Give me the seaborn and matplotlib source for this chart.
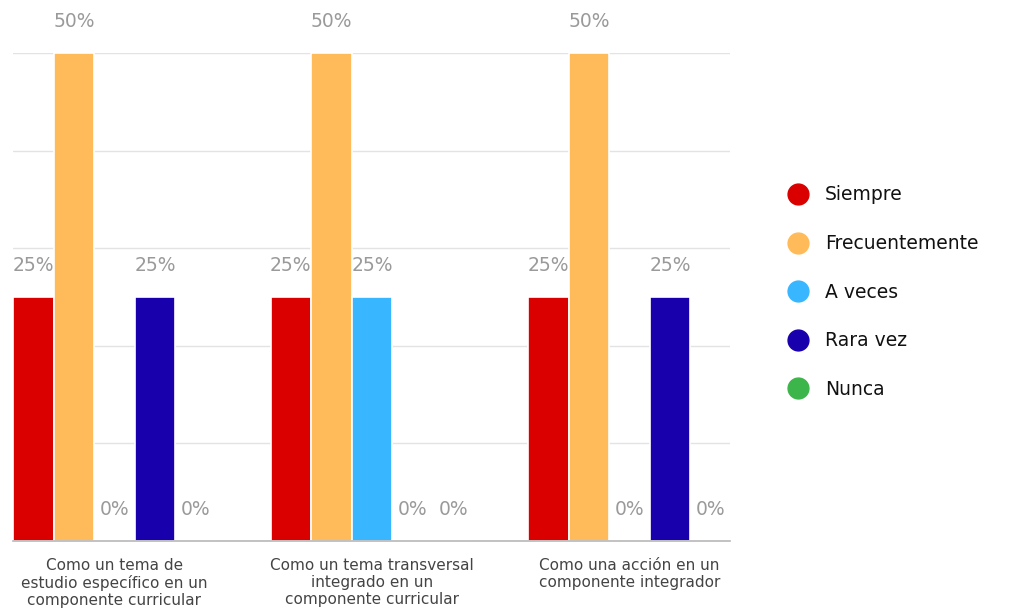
import matplotlib
matplotlib.use("Agg")
import matplotlib.pyplot as plt
from matplotlib.lines import Line2D
import seaborn as sns
import pandas as pd

categories = [
    "Como un tema de\nestudio específico en un\ncomponente curricular",
    "Como un tema transversal\nintegrado en un\ncomponente curricular",
    "Como una acción en un\ncomponente integrador",
]
series = ["Siempre", "Frecuentemente", "A veces", "Rara vez", "Nunca"]
siempre = [25, 25, 25]
frecuentemente = [50, 50, 50]
a_veces = [0, 25, 0]
rara_vez = [25, 0, 25]
nunca = [0, 0, 0]
colors = ["#da0000", "#ffbb5a", "#38b6ff", "#1800ad", "#3cb54a"]

values = [siempre, frecuentemente, a_veces, rara_vez, nunca]
rows = []
for s, vals in zip(series, values):
    for c, v in zip(categories, vals):
        rows.append({"cat": c, "serie": s, "val": v})
df = pd.DataFrame(rows)

sns.set_theme(style="white")
plt.rcParams["font.family"] = ["DejaVu Sans"]

fig = plt.figure(figsize=(10.09, 6.10), dpi=100)
ax = fig.add_axes([0.0129, 0.113, 0.7106, 0.800])

sns.barplot(data=df, x="cat", y="val", hue="serie", order=categories,
            hue_order=series, palette=colors, width=0.788, ax=ax,
            edgecolor="white", linewidth=1.2, legend=False, errorbar=None,
            saturation=1)

ax.set_ylim(0, 50)
ax.set_xlim(-0.394, 2.39)
ax.set_yticks([0, 10, 20, 30, 40, 50])
ax.set_yticklabels([])
ax.yaxis.grid(True, color="#e3e3e3", linewidth=1)
ax.set_axisbelow(True)
for sp in ["top", "right", "left"]:
    ax.spines[sp].set_visible(False)
ax.spines["bottom"].set_color("#b8b8b8")
ax.spines["bottom"].set_linewidth(1.2)
ax.set_xlabel("")
ax.set_ylabel("")
ax.tick_params(axis="x", length=0, pad=12, labelsize=11, labelcolor="#444444")
ax.tick_params(axis="y", length=0)
for lbl in ax.get_xticklabels():
    lbl.set_linespacing(1.17)

for cont in ax.containers:
    for p in cont.patches:
        h = p.get_height()
        x = p.get_x() + p.get_width() / 2
        ax.annotate(f"{h:.0f}%", (x, h), xytext=(0, 23), textcoords="offset points",
                    ha="center", va="center", fontsize=13.5, color="#9a9a9a",
                    annotation_clip=False)

handles = [Line2D([0], [0], marker="o", linestyle="none", markersize=15,
                  markerfacecolor=c, markeredgecolor=c) for c in colors]
fig.legend(handles, series, loc="center left", bbox_to_anchor=(0.763, 0.521),
           frameon=False, fontsize=13.5, labelspacing=1.58, handletextpad=0.85,
           handlelength=1.2, labelcolor="#111111")

fig.savefig("out.png", dpi=100, facecolor="white")
